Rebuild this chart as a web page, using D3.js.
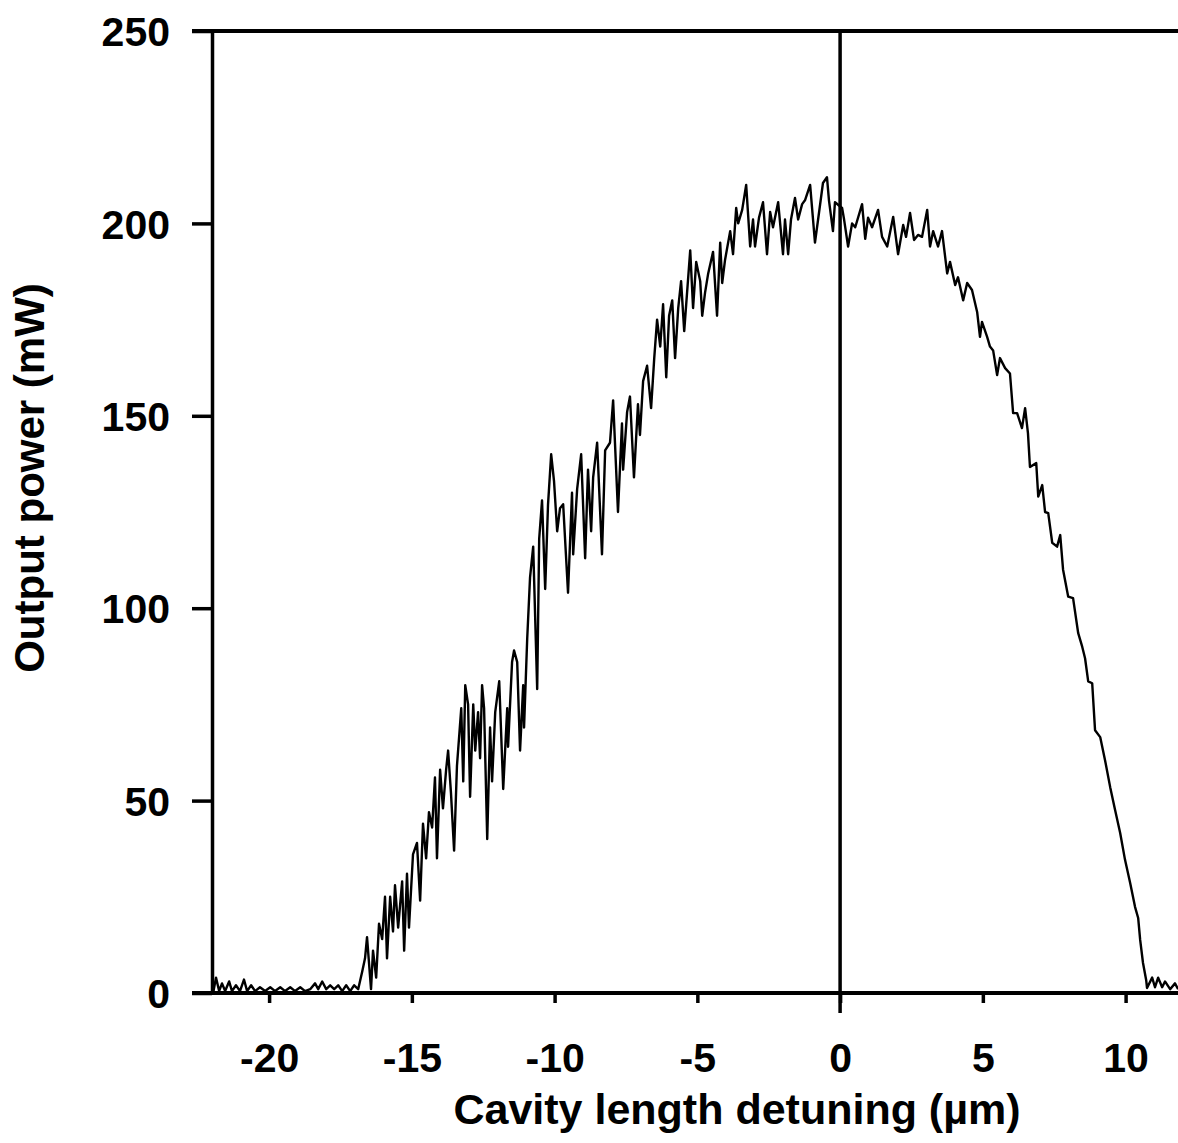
<!DOCTYPE html>
<html>
<head>
<meta charset="utf-8">
<script src="https://cdn.jsdelivr.net/npm/d3@7"></script>
<style>
  html, body { margin: 0; padding: 0; background: #fff; }
  svg { display: block; }
  text { font-family: "Liberation Sans", Arial, Helvetica, sans-serif; font-weight: bold; fill: #000; }
</style>
</head>
<body>
<svg id="chart" width="1178" height="1143"></svg>
<script>
// Cavity length detuning (µm)
const detuning = [
-21.96,-21.86,-21.75,-21.65,-21.54,-21.40,-21.30,-21.16,-21.02,-20.88,-20.77,-20.63,-20.49,-20.32,-20.14,-19.96,-19.79,-19.61,-19.44,-19.26,-19.09,-18.91,-18.74,-18.56,-18.39,-18.28,-18.14,-18.00,-17.86,-17.72,-17.58,-17.44,-17.30,-17.16,-17.02,-16.88,-16.74,-16.64,-16.57,-16.43,-16.36,-16.25,-16.15,-16.04,-15.94,-15.87,-15.76,-15.66,-15.59,-15.48,-15.34,-15.27,-15.17,-15.10,-14.96,-14.82,-14.71,-14.61,-14.50,-14.40,-14.29,-14.19,-14.12,-14.01,-13.91,-13.80,-13.73,-13.63,-13.52,-13.42,-13.27,-13.20,-13.13,-13.03,-12.96,-12.85,-12.78,-12.68,-12.61,-12.54,-12.47,-12.36,-12.26,-12.19,-12.08,-11.94,-11.80,-11.66,-11.63,-11.49,-11.42,-11.31,-11.21,-11.10,-11.07,-10.96,
-10.86,-10.75,-10.61,-10.54,-10.44,-10.33,-10.23,-10.12,-10.02,-9.91,-9.81,-9.70,-9.53,-9.39,-9.35,-9.21,-9.07,-8.93,-8.83,-8.72,-8.65,-8.51,-8.34,-8.23,-8.06,-7.95,-7.78,-7.64,-7.60,-7.46,-7.36,-7.22,-7.08,-7.01,-6.90,-6.76,-6.62,
-6.51,-6.41,-6.30,-6.20,-6.09,-5.99,-5.88,-5.78,-5.67,-5.57,-5.46,-5.36,-5.25,-5.15,-5.04,-4.90,-4.83,-4.73,-4.62,-4.45,-4.31,-4.20,-4.13,-4.03,-3.85,-3.75,-3.64,-3.57,-3.43,-3.29,-3.15,-3.05,-2.98,-2.84,-2.70,-2.56,-2.45,-2.35,-2.17,-2.00,-1.93,-1.82,-1.72,-1.58,-1.47,-1.33,-1.23,-1.05,-0.88,-0.74,-0.60,-0.46,-0.39,-0.25,-0.18,
0.07,0.14,0.28,0.42,0.53,0.77,0.88,0.98,1.12,1.33,1.47,1.65,1.86,2.03,2.21,2.31,2.45,2.59,2.73,2.87,3.05,3.15,3.26,3.43,3.57,3.75,3.85,4.03,4.13,4.31,4.45,4.62,4.80,4.90,4.97,5.15,5.25,5.36,5.50,5.60,5.78,5.95,6.06,6.20,6.37,6.48,6.58,6.65,6.87,6.94,7.08,7.18,7.29,7.43,7.60,7.71,7.81,7.99,8.16,8.34,8.48,8.58,8.69,8.83,8.93,9.11,9.28,9.46,9.63,9.81,9.98,10.16,10.33,10.44,10.51,10.61,10.72,10.75,10.93,11.03,11.14,11.28,11.38,11.56,11.73,11.84
];
// Output power (mW)
const power = [
0,4,0.5,2.5,0.5,3,0.5,2,0.5,3.5,0.5,2,0.5,1.5,0.5,1.5,0.5,1.5,0.5,1.5,0.5,1.5,0.5,1,2.5,1,3,1,2,1,2,0.5,2,0.5,2,1,5.5,9,14.5,1,11,4,18,14,25,9,25,16,28,17,29,11,31,17,36,39,24,44,35,47,43,56,35,58,48,58,63,52,37,59,74,55,80,75,51,75,63,73,61,80,74,40,69,55,73,81,53,74,64,86,89,86,63,80,69,92,
108,116,79,118,128,105,127,140,133,120,126,127,104,130,114,131,140,113,136,120,134,143,114,141,143,154,125,148,136,151,155,134,153,145,159,163,152,
165,175,168,179,160,176,180,165,178,185,172,182,193,178,190,185,176,182,187,192.6,176,195,184.5,190.5,198,192,204,200,203.5,210,194,201,194,201.5,205.5,192,203,199,205.5,192,201,192,201,206.6,201,205,206,210,195,202.7,210.5,212,206,198,205.5,
204,201,194,200,199,205,196,201.5,199,203.5,196.5,194,201.7,192,199.6,196.5,202.7,195.7,197,196.5,203.5,194,198,194,198,187,190,184,186,180,184.5,182.7,177,170.5,174.4,170.5,168,167,160.6,165,162.4,161,150.7,150.7,146.8,152,145.5,136.7,137.7,129,132,125,124.7,117,116,119,110,103,102.6,93.5,90,87,81,80.5,68.3,66.5,60.5,53.5,47.6,41.6,34.6,28.6,22.4,19.5,13.8,7.8,3.4,1.3,4,1.5,4,1.5,3,1,2.5,1
];
const xTicks = [-20, -15, -10, -5, 0, 5, 10];
const xTickLabels = ["-20", "-15", "-10", "-5", "0", "5", "10"];
const yTicks = [0, 50, 100, 150, 200, 250];
const yTickLabels = ["0", "50", "100", "150", "200", "250"];
const xTitle = "Cavity length detuning (\u00b5m)";
const yTitle = "Output power (mW)";

const W = 1178, H = 1143;
const svg = d3.select("#chart");
const x = d3.scaleLinear().domain([-22, 12]).range([212, 1182.7]);
const y = d3.scaleLinear().domain([0, 250]).range([993, 31]);

// Y axis
const yAxis = svg.append("g").attr("transform", `translate(${x(-22)},0)`)
  .call(d3.axisLeft(y).tickValues(yTicks).tickSize(20).tickSizeOuter(0).tickPadding(22)
    .tickFormat((d, i) => yTickLabels[i]));
yAxis.select(".domain").attr("stroke", "#000").attr("stroke-width", 3.5);
yAxis.selectAll(".tick line").attr("stroke", "#000").attr("stroke-width", 3.5);
yAxis.selectAll(".tick text").attr("font-size", 41).attr("font-family", null).attr("dy", "0.36em");

// X axis
const xAxis = svg.append("g").attr("transform", `translate(0,${y(0)})`)
  .call(d3.axisBottom(x).tickValues(xTicks).tickSize(10).tickSizeOuter(0).tickPadding(40)
    .tickFormat((d, i) => xTickLabels[i]));
xAxis.select(".domain").remove();
xAxis.selectAll(".tick line").attr("stroke", "#000").attr("stroke-width", 3.5);
xAxis.selectAll(".tick text").attr("font-size", 41).attr("font-family", null).attr("dy", "0.71em");

// bottom baseline and top frame line, extending to the tick length on the left
svg.append("line").attr("x1", x(-22) - 20).attr("x2", W).attr("y1", y(0)).attr("y2", y(0))
  .attr("stroke", "#000").attr("stroke-width", 4);
svg.append("line").attr("x1", x(-22) - 20).attr("x2", W).attr("y1", y(250)).attr("y2", y(250))
  .attr("stroke", "#000").attr("stroke-width", 4);
// vertical line at zero detuning
svg.append("line").attr("x1", x(0)).attr("x2", x(0)).attr("y1", y(250)).attr("y2", y(0) + 20)
  .attr("stroke", "#000").attr("stroke-width", 3.5);

// trace
const data = detuning.map((d, i) => ({ x: d, y: power[i] }));
svg.append("path").datum(data)
  .attr("fill", "none").attr("stroke", "#000").attr("stroke-width", 2.4).attr("stroke-linejoin", "round")
  .attr("d", d3.line().x(d => x(d.x)).y(d => y(d.y)));

// titles
svg.append("text").attr("x", 737).attr("y", 1124).attr("text-anchor", "middle")
  .attr("font-size", 43).text(xTitle);
svg.append("text").attr("transform", "translate(44,478) rotate(-90)").attr("text-anchor", "middle")
  .attr("font-size", 42).text(yTitle);
</script>
</body>
</html>
